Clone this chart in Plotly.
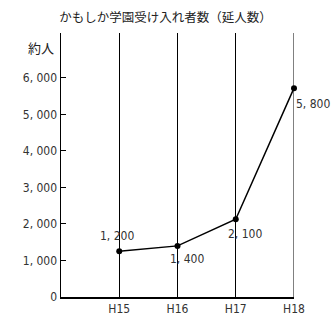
import plotly.graph_objects as go

categories = ["H15", "H16", "H17", "H18"]
values = [1250, 1400, 2130, 5720]
value_labels = ["1, 200", "1, 400", "2, 100", "5, 800"]
y_tickvals = [0, 1000, 2000, 3000, 4000, 5000, 6000]
y_ticktext = ["0", "1, 000", "2, 000", "3, 000", "4, 000", "5, 000", "6, 000"]
title_text = "かもしか学園受け入れ者数（延人数）"
unit_text = "約人"

FONT = "Liberation Sans Narrow, DejaVu Sans Condensed, Roboto Condensed, Arial Narrow, Liberation Sans, sans-serif"
JFONT = "Noto Sans CJK JP, sans-serif"

fig = go.Figure()
fig.add_trace(go.Scatter(
    x=categories, y=values, mode="lines+markers",
    line=dict(color="black", width=1.5),
    marker=dict(color="black", size=6),
    cliponaxis=False,
    showlegend=False, hoverinfo="skip",
))

# gridline at last category (plotly drops the one sitting on the plot edge)
fig.add_shape(type="line", xref="x", yref="paper", x0=categories[-1], x1=categories[-1],
              y0=0, y1=1, line=dict(color="black", width=1), layer="below")

# (xshift, yshift, xanchor)
offsets = [(-2, 15, "center"), (9, -13, "center"), (9, -15, "center"), (0, -16, "left")]
for c, v, t, (dx, dy, xa) in zip(categories, values, value_labels, offsets):
    fig.add_annotation(x=c, y=v, text=t, showarrow=False,
                       xshift=dx, yshift=dy, xanchor=xa,
                       font=dict(family=FONT, size=12, color="#333"))

fig.add_annotation(xref="paper", yref="y", x=0, y=6840, text=unit_text,
                   showarrow=False, xanchor="right", xshift=-5,
                   font=dict(family=JFONT, size=13, color="#222"))

fig.update_layout(
    width=331, height=317,
    margin=dict(l=61, r=37, t=33, b=20, autoexpand=False),
    paper_bgcolor="white", plot_bgcolor="white",
    title=dict(text=title_text, x=0.5, xanchor="center", y=0.945, yanchor="middle",
               font=dict(family=JFONT, size=12.5, color="#222")),
    xaxis=dict(type="category", categoryorder="array", categoryarray=categories,
               range=[-1, 3], showgrid=True, gridcolor="black", gridwidth=1,
               showline=True, linecolor="black", linewidth=1.5,
               ticks="", zeroline=False, automargin=False,
               tickfont=dict(family=FONT, size=12, color="#333"), fixedrange=True),
    yaxis=dict(range=[0, 7230], tickvals=y_tickvals, ticktext=y_ticktext,
               showgrid=False, zeroline=False, automargin=False,
               showline=True, linecolor="black", linewidth=1.5,
               ticks="inside", ticklen=5, tickcolor="black", tickwidth=1,
               tickfont=dict(family=FONT, size=12, color="#333"), fixedrange=True),
)

fig.write_html("out.html", config={"displayModeBar": False, "staticPlot": True},
               post_script="document.body.style.margin='0px';")
